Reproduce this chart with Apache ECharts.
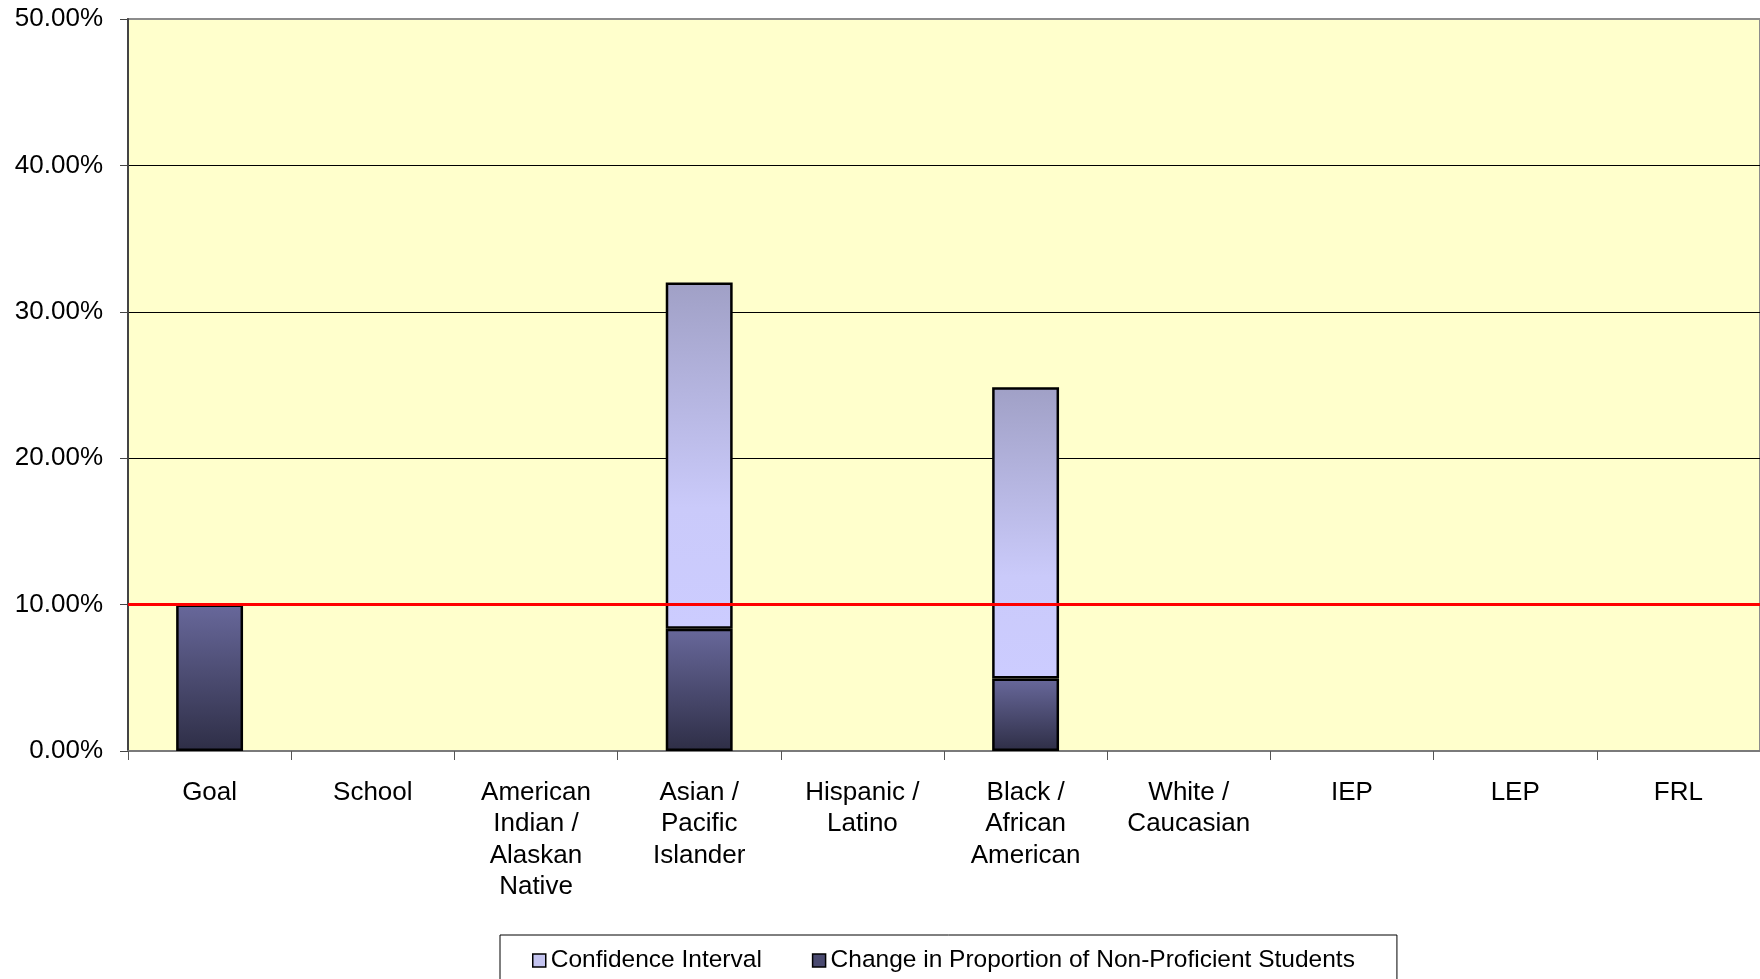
<!DOCTYPE html>
<html>
<head>
<meta charset="utf-8">
<script src="https://cdn.jsdelivr.net/npm/echarts@6/dist/echarts.min.js"></script>
<style>
html,body{margin:0;padding:0;background:#fff;}
#chart{width:1760px;height:979px;}
</style>
</head>
<body>
<div id="chart"></div>
<script>
const categories = ['Goal', 'School', 'American\nIndian /\nAlaskan\nNative', 'Asian /\nPacific\nIslander', 'Hispanic /\nLatino', 'Black /\nAfrican\nAmerican', 'White /\nCaucasian', 'IEP', 'LEP', 'FRL'];
const changeValues = [10.0, null, null, 8.35, null, 4.95, null, null, null, null];
const ciUpperValues = [null, null, null, 32.0, null, 24.85, null, null, null, null];
const goalValue = 10;
const yMin = 0, yMax = 50, yInterval = 10;

const ciWidths = ciUpperValues.map((u, i) => (u == null ? '-' : +(u - (changeValues[i] || 0)).toFixed(2)));
const changeData = changeValues.map(v => (v == null ? '-' : v));

const darkGrad = new echarts.graphic.LinearGradient(0, 0, 0, 1, [
  {offset: 0, color: '#68689b'},
  {offset: 1, color: '#2e2e46'}
]);
const lightGrad = new echarts.graphic.LinearGradient(0, 0, 0, 1, [
  {offset: 0, color: '#a0a0c6'},
  {offset: 0.65, color: '#cacafa'},
  {offset: 1, color: '#ccccff'}
]);

const font = '"Liberation Sans", Arial, sans-serif';
const chart = echarts.init(document.getElementById('chart'));
chart.setOption({
  animation: false,
  backgroundColor: '#ffffff',
  grid: {
    left: 128, top: 19, right: 0, bottom: 228,
    show: true, backgroundColor: '#ffffcc', borderColor: '#8c8c8c', borderWidth: 2
  },
  legend: {
    top: 935, left: 500,
    padding: [13, 42, 40, 32],
    borderColor: '#000', borderWidth: 1,
    itemGap: 50, itemWidth: 13, itemHeight: 13,
    icon: 'rect',
    textStyle: {fontFamily: font, fontSize: 24.5, color: '#000'},
    data: [
      {name: 'Confidence Interval', itemStyle: {color: '#c4c4f0', borderColor: '#000', borderWidth: 1.5}},
      {name: 'Change in Proportion of Non-Proficient Students', itemStyle: {color: '#4a4a70', borderColor: '#000', borderWidth: 1.5}}
    ]
  },
  xAxis: {
    type: 'category',
    data: categories,
    axisLine: {lineStyle: {color: '#7a7a7a', width: 2}},
    axisTick: {show: true, length: 9, lineStyle: {color: '#555', width: 1}},
    axisLabel: {fontFamily: font, fontSize: 26, lineHeight: 31.4, color: '#000', margin: 26, interval: 0}
  },
  yAxis: {
    type: 'value',
    min: yMin, max: yMax, interval: yInterval,
    axisLine: {show: true, lineStyle: {color: '#444', width: 2}},
    axisTick: {show: true, length: 8, lineStyle: {color: '#444', width: 1}},
    axisLabel: {fontFamily: font, fontSize: 26, color: '#000', margin: 25,
      formatter: v => v.toFixed(2) + '%'},
    splitLine: {show: true, showMaxLine: false, lineStyle: {color: '#000', width: 1}}
  },
  series: [
    {
      name: 'Change in Proportion of Non-Proficient Students',
      type: 'bar', stack: 's', barWidth: '41%',
      data: changeData,
      itemStyle: {color: darkGrad, borderColor: '#000', borderWidth: 2.5},
      markLine: {
        silent: true, symbol: 'none', label: {show: false},
        lineStyle: {color: '#ff0000', width: 3, type: 'solid'},
        data: [{yAxis: goalValue}]
      }
    },
    {
      name: 'Confidence Interval',
      type: 'bar', stack: 's', barWidth: '41%',
      data: ciWidths,
      itemStyle: {color: lightGrad, borderColor: '#000', borderWidth: 2.5}
    }
  ]
});
</script>
</body>
</html>
